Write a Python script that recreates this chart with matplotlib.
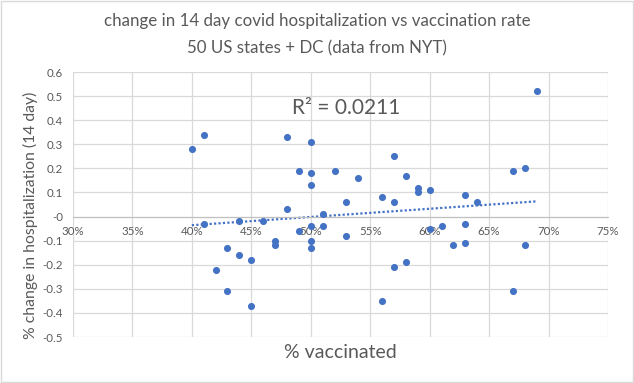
import numpy as np
import matplotlib.pyplot as plt

plt.rcParams['font.family'] = ['Lato', 'DejaVu Sans']

# % vaccinated (x) and % change in hospitalization (y), one point per state + DC
vacc = [40, 41, 41, 42, 43, 43, 44, 44, 45, 45, 46, 47, 47, 48, 48, 49, 49,
        50, 50, 50, 50, 50, 50, 51, 51, 52, 53, 53, 54, 56, 56, 57, 57, 57,
        58, 58, 59, 59, 60, 60, 61, 62, 63, 63, 63, 64, 67, 67, 68, 68, 69]
hosp = [0.28, 0.34, -0.03, -0.22, -0.13, -0.31, -0.02, -0.16, -0.18, -0.37,
        -0.02, -0.10, -0.12, 0.33, 0.03, 0.19, -0.06, 0.31, 0.18, 0.13, -0.04,
        -0.10, -0.13, 0.01, -0.04, 0.19, 0.06, -0.08, 0.16, 0.08, -0.35, 0.25,
        0.06, -0.21, 0.17, -0.19, 0.12, 0.10, 0.11, -0.05, -0.04, -0.12, 0.09,
        -0.03, -0.11, 0.06, 0.19, -0.31, 0.20, -0.12, 0.52]

x = np.array(vacc) / 100.0
y = np.array(hosp)

blue = '#4472C4'
grey = '#595959'

fig = plt.figure(figsize=(6.34, 3.83), dpi=100)
ax = fig.add_axes([0.115, 0.12, 0.844, 0.692])

ax.scatter(x, y, s=26, color=blue, zorder=3, linewidths=0)

# linear trendline + R^2
m, c = np.polyfit(x, y, 1)
xt = np.array([x.min(), x.max()])
ax.plot(xt, m * xt + c, ls=(0, (1, 1)), color=blue, lw=1.6, zorder=2)
pred = m * x + c
r2 = 1 - ((y - pred) ** 2).sum() / ((y - y.mean()) ** 2).sum()
ax.text(0.53, 0.45, 'R² = %.4f' % r2, fontsize=15, color=grey, ha='center', va='center')

ax.set_xlim(0.30, 0.75)
ax.set_ylim(-0.5, 0.6)
ax.set_xticks(np.arange(0.30, 0.751, 0.05))
ax.set_xticklabels(['%d%%' % v for v in range(30, 76, 5)])
yt = np.round(np.arange(-0.5, 0.61, 0.1), 1)
ax.set_yticks(yt)
ax.set_yticklabels(['%g' % v for v in yt])
ax.grid(True, color='#d9d9d9', lw=0.9)
ax.set_axisbelow(True)
ax.tick_params(length=0, labelsize=8.3, labelcolor=grey)
ax.tick_params(axis='x', pad=7)
ax.tick_params(axis='y', pad=7)

for s in ['top', 'right', 'left']:
    ax.spines[s].set_visible(False)
ax.spines['bottom'].set_position(('data', 0))
ax.spines['bottom'].set_color('#bfbfbf')

ax.set_xlabel('% vaccinated', fontsize=14, color=grey, va='center')
ax.xaxis.set_label_coords(0.5, -0.06)
ax.set_ylabel('% change in hospitalization (14 day)', fontsize=11.3, color=grey)
ax.yaxis.set_label_coords(-0.066, 0.46)

fig.text(0.5, 0.945, 'change in 14 day covid hospitalization vs vaccination rate',
         ha='center', va='center', fontsize=12.2, color=grey)
fig.text(0.5, 0.875, '50 US states + DC (data from NYT)',
         ha='center', va='center', fontsize=12.2, color=grey)

fig.patches.append(plt.Rectangle((0.001, 0.002), 0.997, 0.995, transform=fig.transFigure,
                                 fill=False, edgecolor='#d9d9d9', lw=1))

fig.savefig('out.png', dpi=100)
